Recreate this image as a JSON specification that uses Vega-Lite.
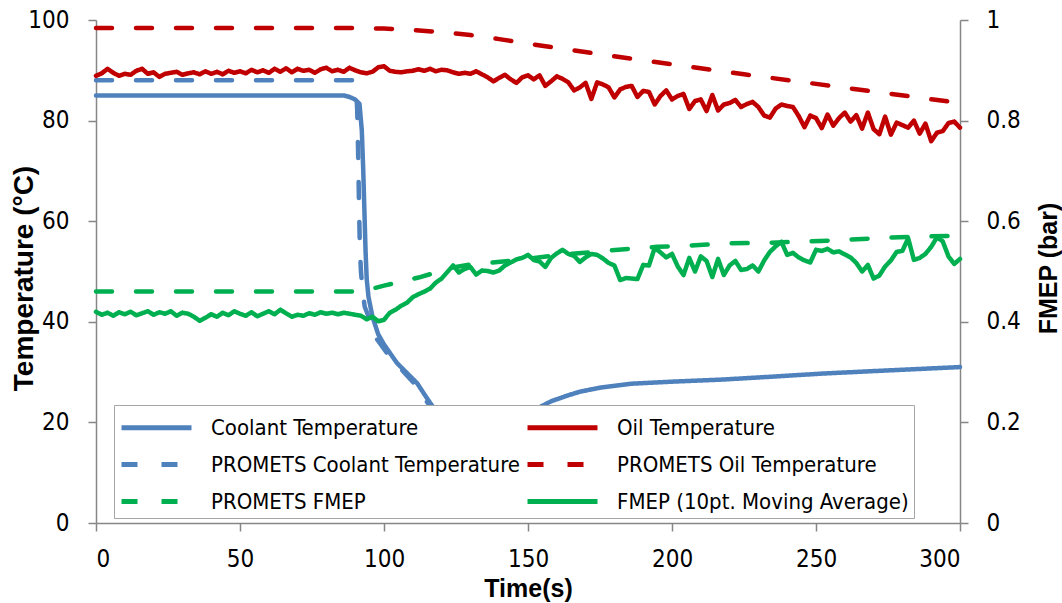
{
  "$schema": "https://vega.github.io/schema/vega-lite/v6.json",
  "width": 864,
  "height": 503,
  "autosize": {"type": "none"},
  "padding": {"left": 96, "top": 20, "right": 102, "bottom": 80},
  "background": "white",
  "config": {
    "font": "DejaVu Sans Condensed, Liberation Sans, sans-serif",
    "view": {"stroke": null},
    "axis": {
      "grid": false,
      "domainColor": "#868686",
      "domainWidth": 1.5,
      "tickColor": "#868686",
      "tickWidth": 1.5,
      "tickSize": 8,
      "labelFont": "DejaVu Sans Condensed, Liberation Sans, sans-serif",
      "labelFontSize": 24,
      "labelColor": "black",
      "titleColor": "black",
      "titleFontWeight": "bold"
    },
    "legend": {
      "orient": "none",
      "legendX": 18,
      "legendY": 385,
      "columns": 2,
      "symbolType": "M-1,0H3.6667",
      "symbolSize": 900,
      "symbolStrokeWidth": 5,
      "labelFont": "DejaVu Sans Condensed, Liberation Sans, sans-serif",
      "labelFontSize": 22,
      "labelColor": "black",
      "labelLimit": 500,
      "labelOffset": 57,
      "fillColor": "white",
      "strokeColor": "#a6a6a6",
      "padding": 5,
      "rowPadding": 8,
      "columnPadding": -3
    }
  },
  "datasets": {
    "smoothT": [
      {"t": 0, "v": 85, "s": "Coolant Temperature"},
      {"t": 20, "v": 85, "s": "Coolant Temperature"},
      {"t": 40, "v": 85, "s": "Coolant Temperature"},
      {"t": 60, "v": 85, "s": "Coolant Temperature"},
      {"t": 80, "v": 85, "s": "Coolant Temperature"},
      {"t": 86, "v": 85, "s": "Coolant Temperature"},
      {"t": 88, "v": 84.7, "s": "Coolant Temperature"},
      {"t": 90, "v": 84.2, "s": "Coolant Temperature"},
      {"t": 91.5, "v": 83.3, "s": "Coolant Temperature"},
      {"t": 92.3, "v": 78, "s": "Coolant Temperature"},
      {"t": 92.8, "v": 70, "s": "Coolant Temperature"},
      {"t": 93.2, "v": 62, "s": "Coolant Temperature"},
      {"t": 93.6, "v": 54, "s": "Coolant Temperature"},
      {"t": 94, "v": 48.5, "s": "Coolant Temperature"},
      {"t": 94.6, "v": 45, "s": "Coolant Temperature"},
      {"t": 96, "v": 41, "s": "Coolant Temperature"},
      {"t": 98, "v": 37.5, "s": "Coolant Temperature"},
      {"t": 100, "v": 35.5, "s": "Coolant Temperature"},
      {"t": 104.5, "v": 31.8, "s": "Coolant Temperature"},
      {"t": 108, "v": 29.8, "s": "Coolant Temperature"},
      {"t": 111.5, "v": 27.8, "s": "Coolant Temperature"},
      {"t": 114, "v": 25.6, "s": "Coolant Temperature"},
      {"t": 116, "v": 23.9, "s": "Coolant Temperature"},
      {"t": 119, "v": 21.5, "s": "Coolant Temperature"},
      {"t": 125, "v": 18.5, "s": "Coolant Temperature"},
      {"t": 135, "v": 17, "s": "Coolant Temperature"},
      {"t": 145, "v": 18.5, "s": "Coolant Temperature"},
      {"t": 150, "v": 20.5, "s": "Coolant Temperature"},
      {"t": 154, "v": 23, "s": "Coolant Temperature"},
      {"t": 158, "v": 24.2, "s": "Coolant Temperature"},
      {"t": 163, "v": 25.2, "s": "Coolant Temperature"},
      {"t": 168, "v": 26.1, "s": "Coolant Temperature"},
      {"t": 175, "v": 26.9, "s": "Coolant Temperature"},
      {"t": 186, "v": 27.7, "s": "Coolant Temperature"},
      {"t": 200, "v": 28.1, "s": "Coolant Temperature"},
      {"t": 217, "v": 28.5, "s": "Coolant Temperature"},
      {"t": 235, "v": 29.1, "s": "Coolant Temperature"},
      {"t": 252, "v": 29.7, "s": "Coolant Temperature"},
      {"t": 270, "v": 30.2, "s": "Coolant Temperature"},
      {"t": 285, "v": 30.6, "s": "Coolant Temperature"},
      {"t": 300, "v": 31, "s": "Coolant Temperature"},
      {"t": 0, "v": 88, "s": "PROMETS Coolant Temperature"},
      {"t": 30, "v": 88, "s": "PROMETS Coolant Temperature"},
      {"t": 60, "v": 88, "s": "PROMETS Coolant Temperature"},
      {"t": 89.5, "v": 88, "s": "PROMETS Coolant Temperature"},
      {"t": 90.3, "v": 87, "s": "PROMETS Coolant Temperature"},
      {"t": 90.7, "v": 82, "s": "PROMETS Coolant Temperature"},
      {"t": 91, "v": 74, "s": "PROMETS Coolant Temperature"},
      {"t": 91.3, "v": 64, "s": "PROMETS Coolant Temperature"},
      {"t": 91.6, "v": 55, "s": "PROMETS Coolant Temperature"},
      {"t": 92, "v": 50, "s": "PROMETS Coolant Temperature"},
      {"t": 92.6, "v": 46, "s": "PROMETS Coolant Temperature"},
      {"t": 93.3, "v": 43, "s": "PROMETS Coolant Temperature"},
      {"t": 95, "v": 40.5, "s": "PROMETS Coolant Temperature"},
      {"t": 97.6, "v": 36.5, "s": "PROMETS Coolant Temperature"},
      {"t": 102, "v": 33, "s": "PROMETS Coolant Temperature"},
      {"t": 106.6, "v": 30.2, "s": "PROMETS Coolant Temperature"},
      {"t": 111.5, "v": 27.1, "s": "PROMETS Coolant Temperature"},
      {"t": 115, "v": 24, "s": "PROMETS Coolant Temperature"},
      {"t": 120, "v": 20, "s": "PROMETS Coolant Temperature"},
      {"t": 126, "v": 16.5, "s": "PROMETS Coolant Temperature"},
      {"t": 0, "v": 98.4, "s": "PROMETS Oil Temperature"},
      {"t": 30, "v": 98.4, "s": "PROMETS Oil Temperature"},
      {"t": 60, "v": 98.4, "s": "PROMETS Oil Temperature"},
      {"t": 90, "v": 98.4, "s": "PROMETS Oil Temperature"},
      {"t": 100, "v": 98.3, "s": "PROMETS Oil Temperature"},
      {"t": 110, "v": 98, "s": "PROMETS Oil Temperature"},
      {"t": 120, "v": 97.6, "s": "PROMETS Oil Temperature"},
      {"t": 130, "v": 97, "s": "PROMETS Oil Temperature"},
      {"t": 140, "v": 96.2, "s": "PROMETS Oil Temperature"},
      {"t": 150, "v": 95.3, "s": "PROMETS Oil Temperature"},
      {"t": 175, "v": 93.2, "s": "PROMETS Oil Temperature"},
      {"t": 200, "v": 91.2, "s": "PROMETS Oil Temperature"},
      {"t": 225, "v": 89.2, "s": "PROMETS Oil Temperature"},
      {"t": 250, "v": 87.3, "s": "PROMETS Oil Temperature"},
      {"t": 275, "v": 85.4, "s": "PROMETS Oil Temperature"},
      {"t": 300, "v": 83.5, "s": "PROMETS Oil Temperature"}
    ],
    "smoothF": [
      {"t": 0, "v": 0.46, "s": "PROMETS FMEP"},
      {"t": 30, "v": 0.46, "s": "PROMETS FMEP"},
      {"t": 60, "v": 0.46, "s": "PROMETS FMEP"},
      {"t": 92, "v": 0.46, "s": "PROMETS FMEP"},
      {"t": 96, "v": 0.466, "s": "PROMETS FMEP"},
      {"t": 100, "v": 0.472, "s": "PROMETS FMEP"},
      {"t": 106, "v": 0.48, "s": "PROMETS FMEP"},
      {"t": 112, "v": 0.488, "s": "PROMETS FMEP"},
      {"t": 118, "v": 0.498, "s": "PROMETS FMEP"},
      {"t": 124, "v": 0.508, "s": "PROMETS FMEP"},
      {"t": 130, "v": 0.514, "s": "PROMETS FMEP"},
      {"t": 136, "v": 0.517, "s": "PROMETS FMEP"},
      {"t": 145, "v": 0.522, "s": "PROMETS FMEP"},
      {"t": 155, "v": 0.529, "s": "PROMETS FMEP"},
      {"t": 165, "v": 0.535, "s": "PROMETS FMEP"},
      {"t": 175, "v": 0.54, "s": "PROMETS FMEP"},
      {"t": 185, "v": 0.545, "s": "PROMETS FMEP"},
      {"t": 195, "v": 0.549, "s": "PROMETS FMEP"},
      {"t": 208, "v": 0.552, "s": "PROMETS FMEP"},
      {"t": 220, "v": 0.556, "s": "PROMETS FMEP"},
      {"t": 234, "v": 0.557, "s": "PROMETS FMEP"},
      {"t": 247, "v": 0.56, "s": "PROMETS FMEP"},
      {"t": 258, "v": 0.562, "s": "PROMETS FMEP"},
      {"t": 270, "v": 0.566, "s": "PROMETS FMEP"},
      {"t": 283, "v": 0.569, "s": "PROMETS FMEP"},
      {"t": 300, "v": 0.571, "s": "PROMETS FMEP"}
    ],
    "noisy": [
      {"t": 0, "oil": 88.9, "fmep": 0.42},
      {"t": 2, "oil": 89.4, "fmep": 0.414},
      {"t": 4, "oil": 90.3, "fmep": 0.418},
      {"t": 6, "oil": 89.5, "fmep": 0.412},
      {"t": 8, "oil": 88.9, "fmep": 0.419},
      {"t": 10, "oil": 89.3, "fmep": 0.415},
      {"t": 12, "oil": 89.1, "fmep": 0.42},
      {"t": 14, "oil": 89.9, "fmep": 0.413},
      {"t": 16, "oil": 90.3, "fmep": 0.417},
      {"t": 18, "oil": 89.3, "fmep": 0.421},
      {"t": 20, "oil": 89.6, "fmep": 0.414},
      {"t": 22, "oil": 88.7, "fmep": 0.419},
      {"t": 24, "oil": 89.3, "fmep": 0.416},
      {"t": 26, "oil": 89.5, "fmep": 0.421},
      {"t": 28, "oil": 89.7, "fmep": 0.412},
      {"t": 30, "oil": 89.1, "fmep": 0.418},
      {"t": 32, "oil": 89.4, "fmep": 0.416},
      {"t": 34, "oil": 89.6, "fmep": 0.41},
      {"t": 36, "oil": 89.2, "fmep": 0.402},
      {"t": 38, "oil": 89.8, "fmep": 0.408},
      {"t": 40, "oil": 89.3, "fmep": 0.415},
      {"t": 42, "oil": 89.7, "fmep": 0.41},
      {"t": 44, "oil": 89.2, "fmep": 0.418},
      {"t": 46, "oil": 89.9, "fmep": 0.413},
      {"t": 48, "oil": 89.5, "fmep": 0.421},
      {"t": 50, "oil": 89.8, "fmep": 0.416},
      {"t": 52, "oil": 89.4, "fmep": 0.412},
      {"t": 54, "oil": 90.1, "fmep": 0.419},
      {"t": 56, "oil": 89.6, "fmep": 0.411},
      {"t": 58, "oil": 90, "fmep": 0.416},
      {"t": 60, "oil": 89.5, "fmep": 0.421},
      {"t": 62, "oil": 90.3, "fmep": 0.415},
      {"t": 64, "oil": 89.7, "fmep": 0.424},
      {"t": 66, "oil": 90.4, "fmep": 0.417},
      {"t": 68, "oil": 89.6, "fmep": 0.41},
      {"t": 70, "oil": 90.3, "fmep": 0.414},
      {"t": 72, "oil": 89.9, "fmep": 0.412},
      {"t": 74, "oil": 90.1, "fmep": 0.417},
      {"t": 76, "oil": 89.5, "fmep": 0.414},
      {"t": 78, "oil": 90.2, "fmep": 0.419},
      {"t": 80, "oil": 90.5, "fmep": 0.416},
      {"t": 82, "oil": 89.8, "fmep": 0.418},
      {"t": 84, "oil": 90.1, "fmep": 0.415},
      {"t": 86, "oil": 89.7, "fmep": 0.418},
      {"t": 88, "oil": 90.5, "fmep": 0.416},
      {"t": 90, "oil": 90, "fmep": 0.414},
      {"t": 92, "oil": 89.6, "fmep": 0.412},
      {"t": 94, "oil": 89.4, "fmep": 0.405},
      {"t": 96, "oil": 89.7, "fmep": 0.41},
      {"t": 98, "oil": 90.6, "fmep": 0.401},
      {"t": 100, "oil": 90.8, "fmep": 0.404},
      {"t": 102, "oil": 89.9, "fmep": 0.418},
      {"t": 104, "oil": 89.7, "fmep": 0.424},
      {"t": 106, "oil": 89.6, "fmep": 0.432},
      {"t": 108, "oil": 89.8, "fmep": 0.438},
      {"t": 110, "oil": 89.9, "fmep": 0.449},
      {"t": 112, "oil": 90.2, "fmep": 0.455},
      {"t": 114, "oil": 89.9, "fmep": 0.46},
      {"t": 116, "oil": 90.3, "fmep": 0.466},
      {"t": 118, "oil": 89.8, "fmep": 0.478},
      {"t": 120, "oil": 90.1, "fmep": 0.486},
      {"t": 122, "oil": 90, "fmep": 0.499},
      {"t": 124, "oil": 89.6, "fmep": 0.512},
      {"t": 126, "oil": 89.3, "fmep": 0.498},
      {"t": 128, "oil": 89.5, "fmep": 0.505},
      {"t": 130, "oil": 89.3, "fmep": 0.509},
      {"t": 132, "oil": 89.8, "fmep": 0.494},
      {"t": 134, "oil": 89.2, "fmep": 0.502},
      {"t": 136, "oil": 88.6, "fmep": 0.501},
      {"t": 138, "oil": 87.8, "fmep": 0.498},
      {"t": 140, "oil": 88.5, "fmep": 0.502},
      {"t": 142, "oil": 89.1, "fmep": 0.512},
      {"t": 144, "oil": 88.2, "fmep": 0.518},
      {"t": 146, "oil": 87.5, "fmep": 0.524},
      {"t": 148, "oil": 88.6, "fmep": 0.527},
      {"t": 150, "oil": 89, "fmep": 0.533},
      {"t": 152, "oil": 88.2, "fmep": 0.523},
      {"t": 154, "oil": 89, "fmep": 0.52},
      {"t": 156, "oil": 86.9, "fmep": 0.509},
      {"t": 158, "oil": 87.8, "fmep": 0.527},
      {"t": 160, "oil": 88.8, "fmep": 0.536},
      {"t": 162, "oil": 88.3, "fmep": 0.543},
      {"t": 164, "oil": 87.6, "fmep": 0.535},
      {"t": 166, "oil": 86, "fmep": 0.531},
      {"t": 168, "oil": 86.6, "fmep": 0.519},
      {"t": 170, "oil": 87.5, "fmep": 0.528},
      {"t": 172, "oil": 84.3, "fmep": 0.535},
      {"t": 174, "oil": 87.6, "fmep": 0.533},
      {"t": 176, "oil": 87.2, "fmep": 0.526},
      {"t": 178, "oil": 86.6, "fmep": 0.517},
      {"t": 180, "oil": 84.6, "fmep": 0.512},
      {"t": 182, "oil": 86.2, "fmep": 0.483},
      {"t": 184, "oil": 86.7, "fmep": 0.487},
      {"t": 186, "oil": 86.9, "fmep": 0.486},
      {"t": 188, "oil": 84.7, "fmep": 0.485},
      {"t": 190, "oil": 85.9, "fmep": 0.513},
      {"t": 192, "oil": 85.7, "fmep": 0.512},
      {"t": 194, "oil": 83.2, "fmep": 0.547},
      {"t": 196, "oil": 84.9, "fmep": 0.538},
      {"t": 198, "oil": 86, "fmep": 0.528},
      {"t": 200, "oil": 84.2, "fmep": 0.535},
      {"t": 202, "oil": 84.9, "fmep": 0.51},
      {"t": 204, "oil": 85.3, "fmep": 0.493},
      {"t": 206, "oil": 82.3, "fmep": 0.527},
      {"t": 208, "oil": 83.9, "fmep": 0.5},
      {"t": 210, "oil": 84.2, "fmep": 0.53},
      {"t": 212, "oil": 81.9, "fmep": 0.521},
      {"t": 214, "oil": 85.1, "fmep": 0.489},
      {"t": 216, "oil": 82, "fmep": 0.525},
      {"t": 218, "oil": 83.2, "fmep": 0.493},
      {"t": 220, "oil": 83.5, "fmep": 0.512},
      {"t": 222, "oil": 84.1, "fmep": 0.521},
      {"t": 224, "oil": 82.7, "fmep": 0.503},
      {"t": 226, "oil": 83.3, "fmep": 0.505},
      {"t": 228, "oil": 83.7, "fmep": 0.512},
      {"t": 230, "oil": 82.7, "fmep": 0.5},
      {"t": 232, "oil": 81, "fmep": 0.522},
      {"t": 234, "oil": 80.6, "fmep": 0.539},
      {"t": 236, "oil": 82.4, "fmep": 0.55},
      {"t": 238, "oil": 83.2, "fmep": 0.559},
      {"t": 240, "oil": 82.9, "fmep": 0.533},
      {"t": 242, "oil": 82.7, "fmep": 0.537},
      {"t": 244, "oil": 80.9, "fmep": 0.528},
      {"t": 246, "oil": 78.7, "fmep": 0.522},
      {"t": 248, "oil": 81, "fmep": 0.518},
      {"t": 250, "oil": 80.5, "fmep": 0.543},
      {"t": 252, "oil": 78.5, "fmep": 0.541},
      {"t": 254, "oil": 81.2, "fmep": 0.545},
      {"t": 256, "oil": 79, "fmep": 0.538},
      {"t": 258, "oil": 80.5, "fmep": 0.54},
      {"t": 260, "oil": 81.6, "fmep": 0.534},
      {"t": 262, "oil": 79.8, "fmep": 0.528},
      {"t": 264, "oil": 81.1, "fmep": 0.517},
      {"t": 266, "oil": 78.4, "fmep": 0.5},
      {"t": 268, "oil": 81.6, "fmep": 0.513},
      {"t": 270, "oil": 78.3, "fmep": 0.486},
      {"t": 272, "oil": 77.3, "fmep": 0.492},
      {"t": 274, "oil": 80.8, "fmep": 0.51},
      {"t": 276, "oil": 77.2, "fmep": 0.522},
      {"t": 278, "oil": 79.6, "fmep": 0.539},
      {"t": 280, "oil": 79.1, "fmep": 0.541},
      {"t": 282, "oil": 78.6, "fmep": 0.566},
      {"t": 284, "oil": 80, "fmep": 0.523},
      {"t": 286, "oil": 77.4, "fmep": 0.527},
      {"t": 288, "oil": 79.4, "fmep": 0.535},
      {"t": 290, "oil": 75.9, "fmep": 0.549},
      {"t": 292, "oil": 77.6, "fmep": 0.568},
      {"t": 294, "oil": 77.9, "fmep": 0.56},
      {"t": 296, "oil": 79.5, "fmep": 0.53},
      {"t": 298, "oil": 79.8, "fmep": 0.515},
      {"t": 300, "oil": 78.6, "fmep": 0.525}
    ]
  },
  "encoding": {
    "x": {
      "field": "t",
      "type": "quantitative",
      "scale": {"domain": [0, 300], "nice": false},
      "axis": {
        "values": [0, 50, 100, 150, 200, 250, 300],
        "labelPadding": 16,
        "title": "Time(s)",
        "titleFont": "Liberation Sans",
        "titleFontSize": 25,
        "titleBaseline": "alphabetic",
        "titleY": 73
      }
    }
  },
  "layer": [
    {
      "encoding": {
        "y": {
          "type": "quantitative",
          "scale": {"domain": [0, 100], "nice": false},
          "axis": {
            "orient": "left",
            "values": [0, 20, 40, 60, 80, 100],
            "labelPadding": 19,
            "title": "Temperature (°C)",
            "titleFont": "Liberation Sans",
            "titleFontSize": 28,
            "titleAngle": -90,
            "titleBaseline": "alphabetic",
            "titleAlign": "center",
            "titleX": -64,
            "titleY": 258
          }
        }
      },
      "layer": [
        {
          "data": {"name": "smoothT"},
          "mark": {"type": "line", "strokeWidth": 4.5, "strokeCap": "round", "strokeJoin": "round"},
          "encoding": {
            "y": {"field": "v", "type": "quantitative"},
            "color": {
              "field": "s",
              "type": "nominal",
              "scale": {
                "domain": ["Coolant Temperature", "PROMETS Coolant Temperature", "PROMETS FMEP", "Oil Temperature", "PROMETS Oil Temperature", "FMEP (10pt. Moving Average)"],
                "range": ["#4f81bd", "#4f81bd", "#00b050", "#c00000", "#c00000", "#00b050"]
              },
              "legend": {"title": null}
            },
            "strokeDash": {
              "field": "s",
              "type": "nominal",
              "scale": {
                "domain": ["Coolant Temperature", "PROMETS Coolant Temperature", "PROMETS FMEP", "Oil Temperature", "PROMETS Oil Temperature", "FMEP (10pt. Moving Average)"],
                "range": [[1, 0], [16, 24], [16, 24], [1, 0], [16, 24], [1, 0]]
              },
              "legend": {"title": null}
            }
          }
        },
        {
          "data": {"name": "noisy"},
          "mark": {"type": "line", "strokeWidth": 4.5, "strokeCap": "round", "strokeJoin": "round"},
          "encoding": {
            "y": {"field": "oil", "type": "quantitative"},
            "color": {"datum": "Oil Temperature", "legend": null},
            "strokeDash": {"datum": "Oil Temperature", "legend": null}
          }
        }
      ]
    },
    {
      "encoding": {
        "y": {
          "type": "quantitative",
          "scale": {"domain": [0, 1], "nice": false},
          "axis": {
            "orient": "right",
            "values": [0, 0.2, 0.4, 0.6, 0.8, 1],
            "format": ".1~f",
            "labelPadding": 18,
            "title": "FMEP (bar)",
            "titleFont": "Liberation Sans",
            "titleFontSize": 25,
            "titleAngle": -90,
            "titleBaseline": "alphabetic",
            "titleAlign": "center",
            "titleX": 96,
            "titleY": 248
          }
        }
      },
      "layer": [
        {
          "data": {"name": "smoothF"},
          "mark": {"type": "line", "strokeWidth": 4.5, "strokeCap": "round", "strokeJoin": "round"},
          "encoding": {
            "y": {"field": "v", "type": "quantitative"},
            "color": {"field": "s", "type": "nominal", "legend": null},
            "strokeDash": {"field": "s", "type": "nominal", "legend": null}
          }
        },
        {
          "data": {"name": "noisy"},
          "mark": {"type": "line", "strokeWidth": 4.5, "strokeCap": "round", "strokeJoin": "round"},
          "encoding": {
            "y": {"field": "fmep", "type": "quantitative"},
            "color": {"datum": "FMEP (10pt. Moving Average)", "legend": null},
            "strokeDash": {"datum": "FMEP (10pt. Moving Average)", "legend": null}
          }
        }
      ]
    }
  ],
  "resolve": {"scale": {"y": "independent"}}
}
